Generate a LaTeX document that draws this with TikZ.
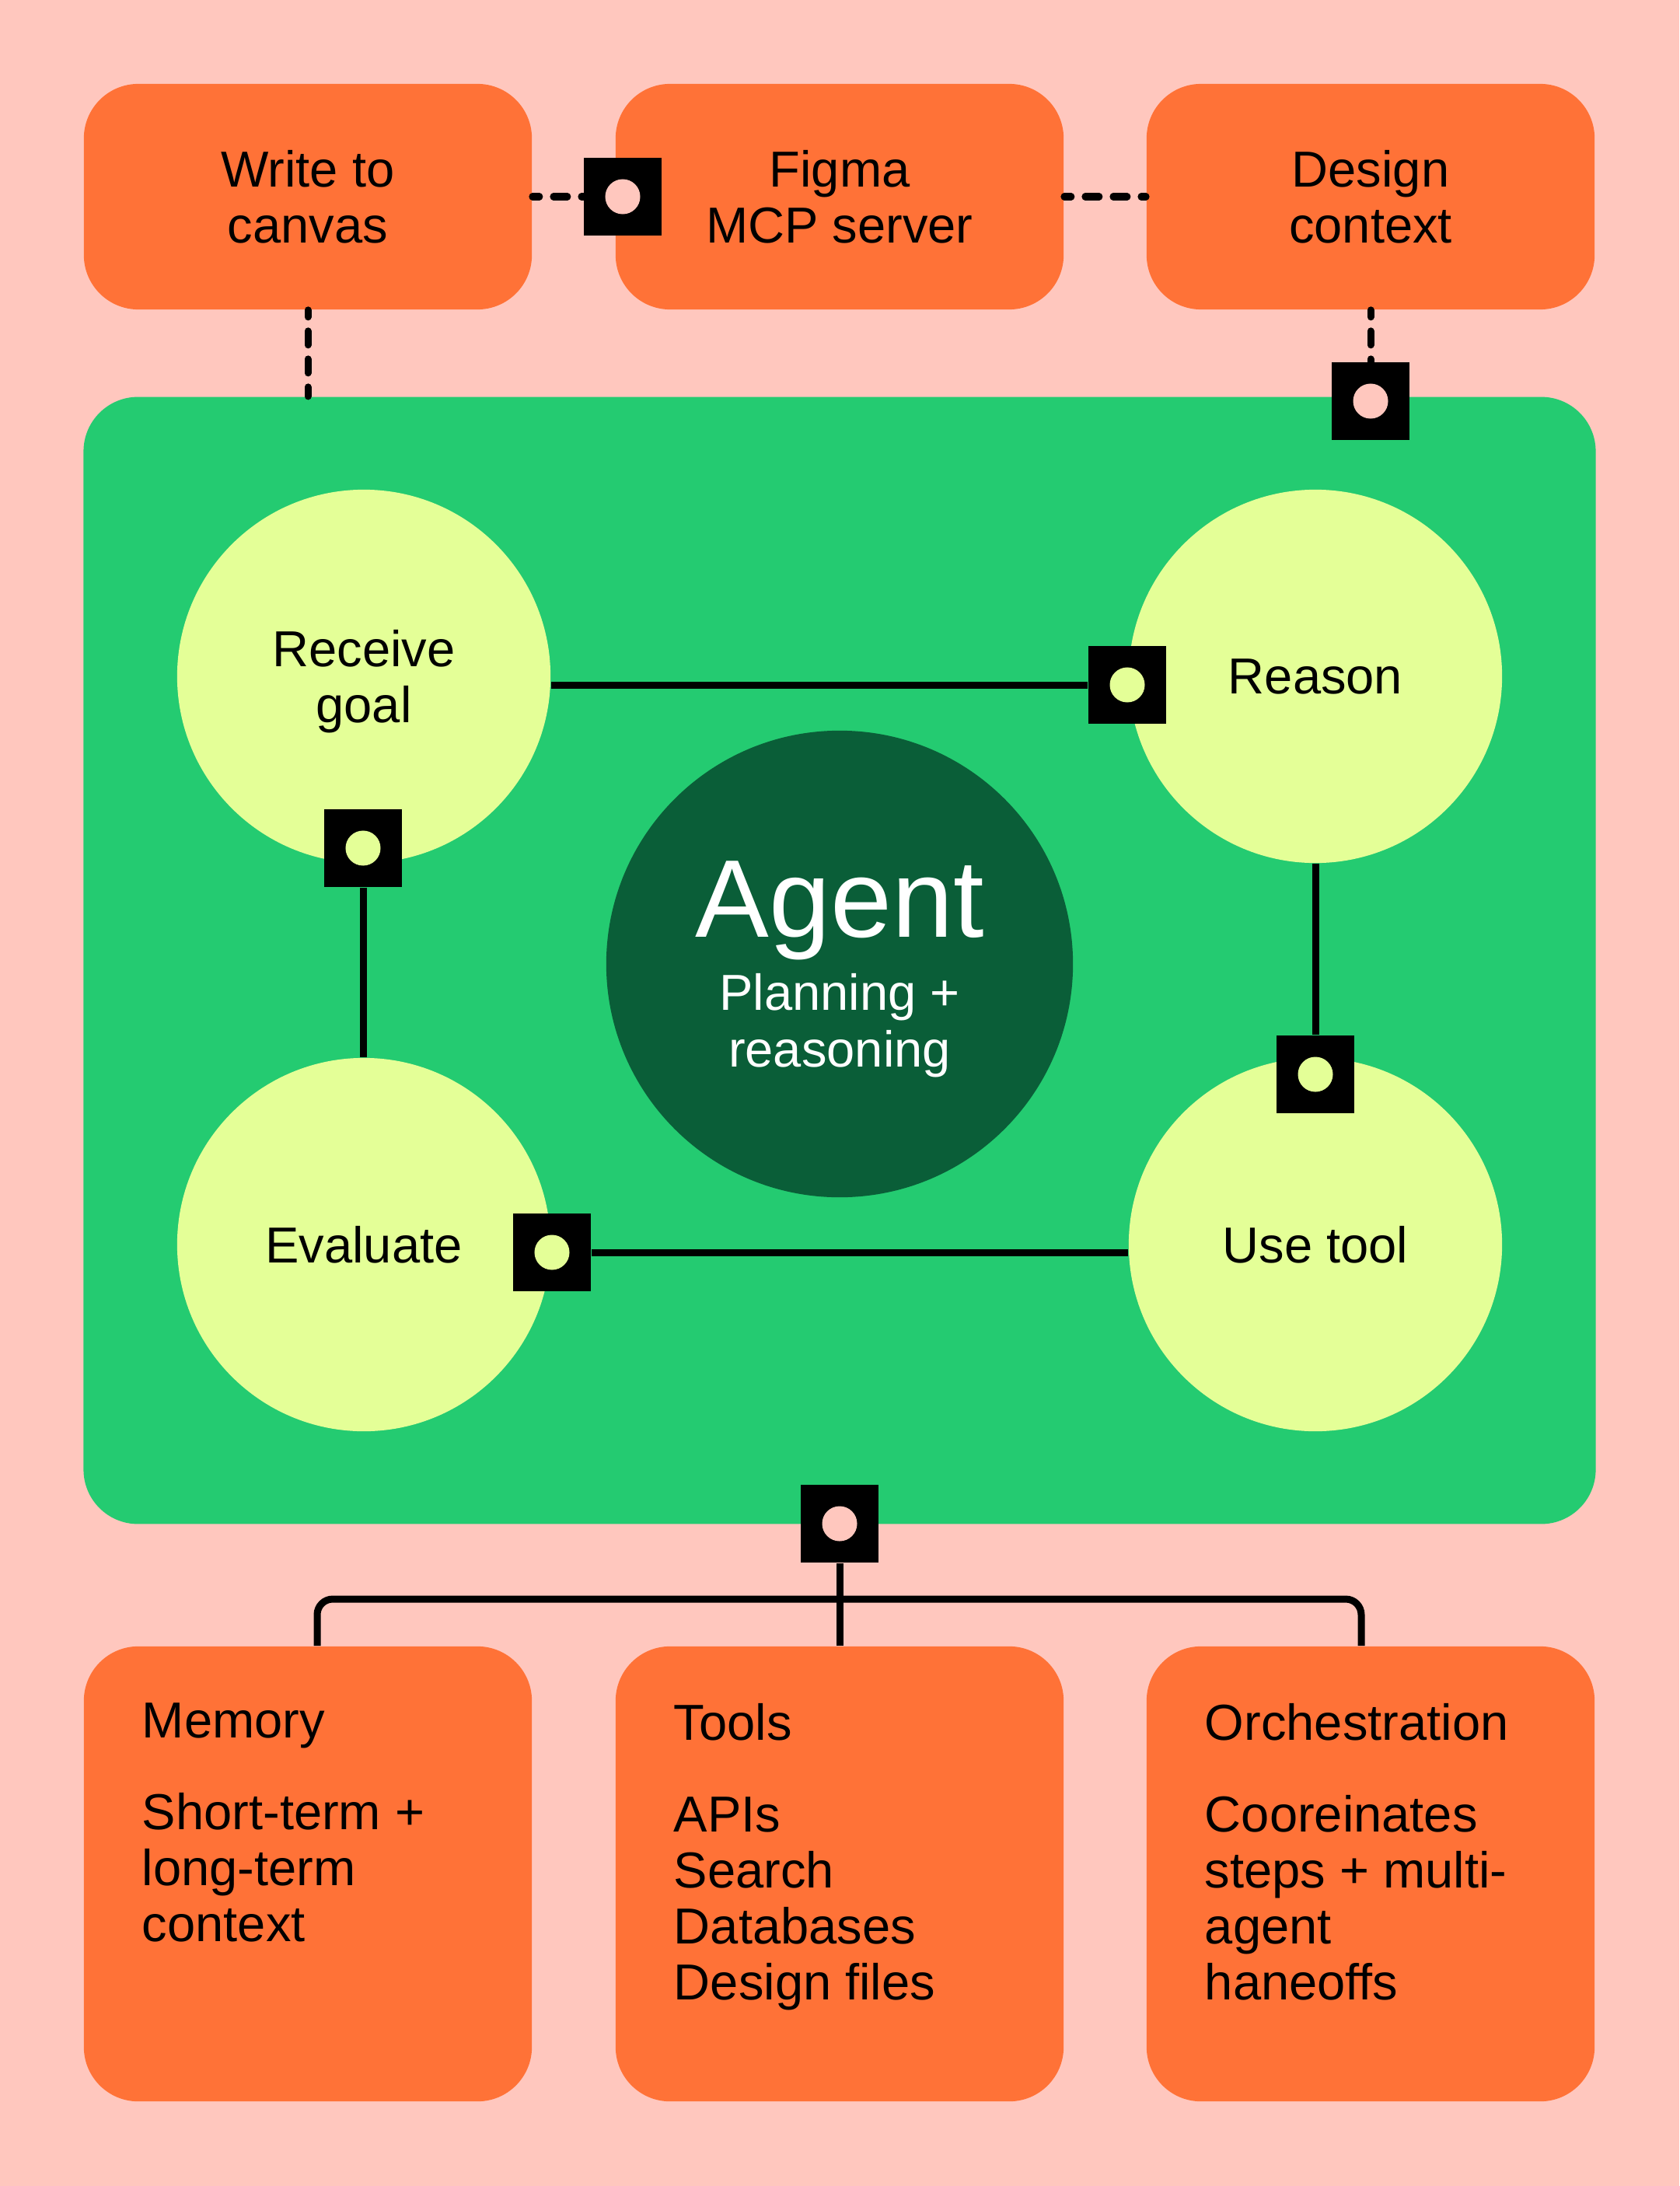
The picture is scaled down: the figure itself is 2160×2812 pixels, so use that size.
\documentclass[tikz,border=0pt]{standalone}
\usepackage{fontspec}
\setmainfont{Liberation Sans}
\definecolor{bgpink}{HTML}{FFC7BE}
\definecolor{boxorange}{HTML}{FF7237}
\definecolor{panelgreen}{HTML}{24CB71}
\definecolor{stagelime}{HTML}{E4FF97}
\definecolor{coregreen}{HTML}{0A5E38}
\newcommand{\bodyfont}{\fontsize{18.5pt}{20.5pt}\selectfont}
\newcommand{\agentfont}{\fontsize{40.4pt}{42pt}\selectfont}

\begin{document}
\begin{tikzpicture}[x=0.01cm,y=-0.01cm,
  topbox/.style={fill=boxorange,rounded corners=0.7cm,minimum width=5.76cm,minimum height=2.9cm,align=center,font=\bodyfont},
  infobox/.style={fill=boxorange,rounded corners=0.7cm,inner xsep=0.75cm,inner ysep=0.73cm,font=\bodyfont},
  panel/.style={fill=panelgreen,rounded corners=0.7cm,minimum width=19.44cm,minimum height=14.49cm},
  stage/.style={circle,fill=stagelime,minimum size=4.8cm,inner sep=0pt,align=center,text depth=0pt,font=\bodyfont},
  core/.style={circle,fill=coregreen,minimum size=6cm,inner sep=0pt,align=center,text depth=0pt,text=white,font=\bodyfont},
  port/.style={fill=black,minimum size=1cm,inner sep=0pt,
    path picture={\fill[#1] (path picture bounding box.center) circle (0.225cm);}},
  link/.style={line width=2.56pt},
  dashlink/.style={line width=2.56pt,line cap=round,dash pattern=on 0.18cm off 0.18cm,dash phase=0.09cm}]
\useasboundingbox (0,0) rectangle (2160,2812);
\fill[bgpink] (0,0) rectangle (2160,2812);

\node[topbox] (write) at (396,253) {Write to\\canvas};
\node[topbox] (figma) at (1080,253) {Figma\\MCP server};
\node[topbox] (design) at (1763,253) {Design\\context};

\node[panel] (panel) at (1080,1235.5) {};

\node[stage] (goal) at (468,870) {Receive\\goal};
\node[stage] (reason) at (1692,870) {Reason};
\node[stage] (evaluate) at (468,1601) {Evaluate};
\node[stage] (usetool) at (1692,1601) {Use tool};
\node[core] (agent) at (1080,1240) {{\agentfont Agent}\\[0.14cm]Planning +\\reasoning};

\node[infobox] (memory) at (396,2410.5) {\parbox[c][4.39cm][t]{4.26cm}{\raggedright
  Memory\\[0.46cm]Short-term +\\long-term\\context}};
\node[infobox] (tools) at (1080,2410.5) {\parbox[c][4.39cm][t]{4.26cm}{\raggedright
  Tools\\[0.46cm]APIs\\Search\\Databases\\Design files}};
\node[infobox] (orch) at (1763,2410.5) {\parbox[c][4.39cm][t]{4.26cm}{\raggedright
  Orchestration\\[0.46cm]Cooreinates\\steps + multi-\\agent\\haneoffs}};

\node[port=stagelime] (goalport) at (1450,881) {};
\node[port=stagelime] (reasonport) at (1692,1382) {};
\node[port=stagelime] (toolport) at (710,1611) {};
\node[port=stagelime] (evalport) at (467,1091) {};
\draw[link] (goal.east |- goalport) -- (goalport);
\draw[link] (reason.south) -- (reasonport);
\draw[link] (usetool.west |- toolport) -- (toolport);
\draw[link] (evalport) -- (evaluate.north -| evalport);

\node[port=bgpink] (figmaport) at (801,253) {};
\node[port=bgpink] (contextport) at (1763,516) {};
\node[port=bgpink] (panelport) at (1080,1960) {};
\draw[dashlink] (write) -- (figmaport);
\draw[dashlink] (figma) -- (design);
\draw[dashlink] (write.south) -- (write.south |- panel.north);
\draw[dashlink] (design.south) -- (contextport);

\coordinate (bar) at (1080,2057);
\draw[link] (panelport) -- (tools.north);
\draw[link,rounded corners=0.2cm] ([xshift=0.12cm]memory.north) |- (bar) -| ([xshift=-0.12cm]orch.north);
\end{tikzpicture}
\end{document}
